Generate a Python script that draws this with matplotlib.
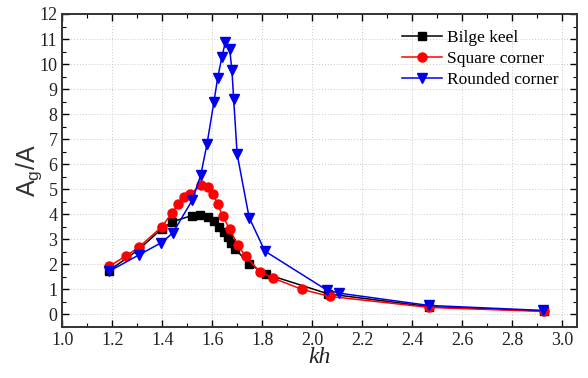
import numpy as np
import matplotlib
matplotlib.use("Agg")
import matplotlib.pyplot as plt
from matplotlib.ticker import MultipleLocator

# ---- DATA ----
kh_bilge = [1.187, 1.307, 1.398, 1.44, 1.519, 1.552, 1.583, 1.608, 1.628, 1.647,
            1.664, 1.677, 1.692, 1.748, 1.814, 2.065, 2.47, 2.93]
ag_bilge = [1.75, 2.6, 3.42, 3.7, 3.95, 3.96, 3.88, 3.72, 3.5, 3.28,
            3.08, 2.85, 2.62, 2.02, 1.62, 0.82, 0.31, 0.14]

kh_square = [1.187, 1.254, 1.307, 1.398, 1.44, 1.465, 1.489, 1.512, 1.556, 1.582,
             1.604, 1.622, 1.642, 1.671, 1.702, 1.734, 1.79, 1.844, 1.96, 2.071,
             2.47, 2.93]
ag_square = [1.92, 2.33, 2.69, 3.5, 4.07, 4.4, 4.69, 4.8, 5.17, 5.11,
             4.81, 4.4, 3.92, 3.4, 2.76, 2.33, 1.71, 1.45, 1.0, 0.72,
             0.28, 0.12]

kh_round = [1.187, 1.307, 1.397, 1.442, 1.52, 1.554, 1.579, 1.607, 1.622, 1.639,
            1.653, 1.67, 1.679, 1.686, 1.70, 1.748, 1.811, 2.058, 2.108, 2.467,
            2.925]
ag_round = [1.72, 2.38, 2.87, 3.25, 4.56, 5.56, 6.79, 8.49, 9.45, 10.29,
            10.89, 10.6, 9.76, 8.6, 6.4, 3.87, 2.53, 0.98, 0.85, 0.36,
            0.16]

# ---- PLOT ----
plt.rcParams['font.family'] = ['Liberation Serif', 'DejaVu Serif']
plt.rcParams['mathtext.fontset'] = 'custom'

fig = plt.figure(figsize=(5.88, 3.78), dpi=100)
ax = fig.add_axes([0.106, 0.135, 0.875, 0.828])

ax.plot(kh_bilge, ag_bilge, '-s', color='black', lw=1.1, ms=5.5, label='Bilge keel')
ax.plot(kh_square, ag_square, '-o', color='#ff0000', lw=1.1, ms=6.5, label='Square corner')
ax.plot(kh_round, ag_round, '-v', color='#0000ee', lw=1.1, ms=7, label='Rounded corner')

ax.set_xlim(1.0, 3.06)
ax.set_ylim(-0.5, 12)
ax.xaxis.set_minor_locator(MultipleLocator(0.1))
ax.yaxis.set_minor_locator(MultipleLocator(0.5))
ax.set_xticks(np.arange(1.0, 3.01, 0.2))
ax.set_yticks(np.arange(0, 12.1, 1))

ax.tick_params(which='both', direction='in', top=True, right=True, labelsize=13,
               labelcolor='#222222')
ax.tick_params(which='major', length=5, width=1.0)
ax.tick_params(which='minor', length=3, width=0.8)
for s in ax.spines.values():
    s.set_linewidth(1.4)
    s.set_color('#333333')

ax.grid(True, which='major', ls=(0, (1, 2)), color='#c8c8c8', lw=0.7)
ax.set_axisbelow(True)

ax.set_xlabel('kh', fontsize=17, style='italic', labelpad=-1, color='#222222')
ax.set_ylabel(r'A$_\mathregular{g}$/A', fontsize=18, family='Liberation Sans',
              labelpad=-3, color='#333333')

ax.legend(loc='upper right', frameon=False, fontsize=12.5, handlelength=2.3,
          handletextpad=0.3, labelspacing=0.3, bbox_to_anchor=(0.995, 1.0))

plt.savefig("out.png", dpi=100)
